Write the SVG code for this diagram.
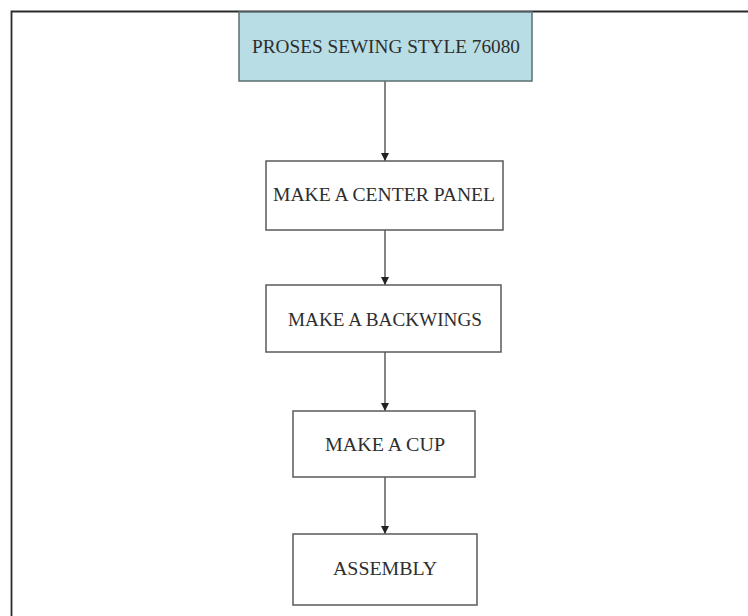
<svg xmlns="http://www.w3.org/2000/svg" width="748" height="616" viewBox="0 0 748 616">
<style>
.box{fill:#ffffff;stroke:#5a5a5a;stroke-width:1.5}
.top{fill:#b9dde5;stroke:#5c6e72;stroke-width:1.5}
.lbl{font-family:"Liberation Serif","Times New Roman",serif;font-size:19px;fill:#2e2e2e;text-anchor:middle}
.conn{stroke:#333333;stroke-width:1.2;fill:none}
</style>
<defs>
<marker id="ah" viewBox="0 0 10 10" refX="10" refY="5" markerWidth="8" markerHeight="8" orient="auto" markerUnits="userSpaceOnUse">
<path d="M0,0 L10,5 L0,10 z" fill="#222222"/>
</marker>
</defs>
<rect x="0" y="0" width="748" height="616" fill="#ffffff"/>
<path d="M11.5,616 L11.5,11.5 L748,11.5" fill="none" stroke="#2a2a2a" stroke-width="1.8"/>
<g id="connectors">
<line class="conn" x1="385" y1="81" x2="385" y2="161" marker-end="url(#ah)"/>
<line class="conn" x1="385" y1="230" x2="385" y2="285" marker-end="url(#ah)"/>
<line class="conn" x1="385" y1="352" x2="385" y2="411" marker-end="url(#ah)"/>
<line class="conn" x1="385" y1="477" x2="385" y2="534" marker-end="url(#ah)"/>
</g>
<g id="node-proses">
<rect class="top" x="239" y="12" width="293" height="69"/>
<text class="lbl" x="386" y="53" textLength="268" lengthAdjust="spacingAndGlyphs">PROSES SEWING STYLE 76080</text>
</g>
<g id="node-center">
<rect class="box" x="266" y="161" width="237" height="69"/>
<text class="lbl" x="384" y="201" textLength="222" lengthAdjust="spacingAndGlyphs">MAKE A CENTER PANEL</text>
</g>
<g id="node-backwings">
<rect class="box" x="266" y="285" width="235" height="67"/>
<text class="lbl" x="385" y="326" textLength="194" lengthAdjust="spacingAndGlyphs">MAKE A BACKWINGS</text>
</g>
<g id="node-cup">
<rect class="box" x="293" y="411" width="182" height="66"/>
<text class="lbl" x="385" y="451" textLength="120" lengthAdjust="spacingAndGlyphs">MAKE A CUP</text>
</g>
<g id="node-assembly">
<rect class="box" x="293" y="534" width="184" height="71"/>
<text class="lbl" x="385" y="575" textLength="104" lengthAdjust="spacingAndGlyphs">ASSEMBLY</text>
</g>
</svg>
